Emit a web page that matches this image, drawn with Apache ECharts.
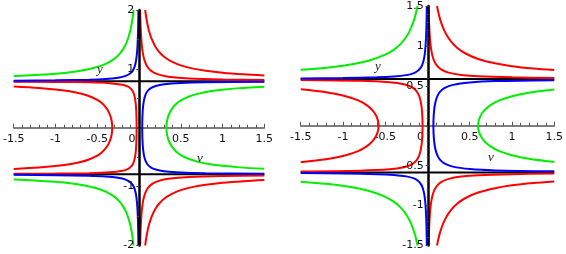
<!DOCTYPE html>
<html><head><meta charset="utf-8">
<script src="https://cdn.jsdelivr.net/npm/echarts@6/dist/echarts.min.js"></script>
<style>html,body{margin:0;padding:0;background:#fff}#c{width:566px;height:254px}</style>
</head><body><div id="c"></div>
<script>
// ---------- tick labels ----------
const xTicks = [-1.5, -1, -0.5, 0, 0.5, 1, 1.5];
const yTicksLeft = [-2, -1, 0, 1, 2];
const yTicksRight = [-1.5, -1, -0.5, 0, 0.5, 1, 1.5];

// ---------- horizontal black lines (y = ±level) ----------
const levelLeft = 0.79;
const levelRight = 0.585;

// ---------- LEFT PANEL, upper half (lower half is its mirror) ----------
// open branches (end at the top edge)
const greenL_A = [[-1.5,0.878],[-1.25,0.894],[-1.0,0.919],[-0.8,0.948],[-0.65,0.981],[-0.5,1.031],[-0.4,1.084],[-0.3,1.165],[-0.24,1.241],[-0.19,1.335],[-0.15,1.446],[-0.12,1.568],[-0.1,1.68],[-0.085,1.792],[-0.075,1.886],[-0.065,2.0]];
const redL_A = [[0.074,2.0],[0.085,1.888],[0.1,1.767],[0.12,1.645],[0.15,1.514],[0.2,1.369],[0.25,1.274],[0.32,1.185],[0.4,1.118],[0.5,1.06],[0.65,1.004],[0.8,0.968],[1.0,0.935],[1.25,0.908],[1.5,0.889]];
const blueL_A = [[-1.5,0.8],[-1.0,0.805],[-0.6,0.815],[-0.4,0.827],[-0.25,0.849],[-0.16,0.88],[-0.1,0.93],[-0.07,0.983],[-0.05,1.051],[-0.035,1.145],[-0.025,1.259],[-0.018,1.399],[-0.013,1.572],[-0.01,1.739],[-0.0085,1.857],[-0.0072,1.99]];
const redL_C = [[0.0133,2.0],[0.016,1.854],[0.02,1.695],[0.026,1.535],[0.035,1.382],[0.05,1.234],[0.07,1.126],[0.1,1.036],[0.15,0.961],[0.22,0.91],[0.35,0.868],[0.6,0.836],[1.0,0.818],[1.5,0.809]];
// closed branches (start on the x axis)
const greenL_B = [[0.3285,0],[0.332,0.08],[0.34,0.145],[0.36,0.234],[0.4,0.334],[0.45,0.41],[0.5,0.463],[0.6,0.531],[0.7,0.575],[0.85,0.619],[1.0,0.647],[1.2,0.673],[1.5,0.698]];
const redL_B = [[-0.3205,0],[-0.325,0.093],[-0.335,0.164],[-0.36,0.262],[-0.4,0.352],[-0.45,0.424],[-0.5,0.473],[-0.6,0.539],[-0.7,0.582],[-0.85,0.623],[-1.0,0.651],[-1.2,0.676],[-1.5,0.70]];
const blueL_B = [[0.0385,0],[0.039,0.093],[0.041,0.196],[0.045,0.301],[0.05,0.379],[0.06,0.473],[0.075,0.551],[0.1,0.62],[0.14,0.673],[0.2,0.71],[0.3,0.738],[0.5,0.759],[0.8,0.771],[1.5,0.78]];
const redL_D = [[-0.0289,0],[-0.0292,0.087],[-0.0305,0.184],[-0.033,0.28],[-0.038,0.388],[-0.045,0.473],[-0.055,0.545],[-0.07,0.606],[-0.09,0.651],[-0.13,0.697],[-0.2,0.731],[-0.35,0.757],[-0.6,0.771],[-1.0,0.778],[-1.5,0.782]];

// ---------- RIGHT PANEL, upper half ----------
const greenR_A = [[-1.5,0.701],[-1.2,0.728],[-1.0,0.753],[-0.8,0.789],[-0.65,0.83],[-0.5,0.89],[-0.4,0.951],[-0.32,1.022],[-0.26,1.099],[-0.21,1.189],[-0.17,1.291],[-0.145,1.376],[-0.13,1.44],[-0.118,1.5]];
const redR_A = [[0.113,1.5],[0.125,1.436],[0.14,1.37],[0.16,1.298],[0.19,1.214],[0.23,1.13],[0.28,1.053],[0.35,0.978],[0.45,0.905],[0.6,0.837],[0.8,0.782],[1.0,0.746],[1.25,0.717],[1.5,0.697]];
const blueR_A = [[-1.5,0.593],[-1.0,0.598],[-0.6,0.606],[-0.4,0.616],[-0.25,0.634],[-0.16,0.66],[-0.11,0.692],[-0.08,0.728],[-0.06,0.769],[-0.045,0.822],[-0.035,0.878],[-0.027,0.947],[-0.021,1.028],[-0.016,1.131],[-0.013,1.223],[-0.011,1.306],[-0.0095,1.386],[-0.0079,1.497]];
const redR_C = [[0.0131,1.5],[0.0145,1.437],[0.017,1.346],[0.021,1.238],[0.027,1.126],[0.035,1.028],[0.045,0.947],[0.06,0.871],[0.08,0.809],[0.11,0.755],[0.16,0.706],[0.25,0.665],[0.4,0.636],[0.6,0.619],[1.0,0.606],[1.5,0.599]];
const greenR_B = [[0.6,0],[0.6005,0.03],[0.605,0.056],[0.615,0.093],[0.64,0.147],[0.68,0.201],[0.75,0.262],[0.85,0.318],[1.0,0.37],[1.2,0.414],[1.5,0.453]];
const redR_B = [[-0.58,0],[-0.5805,0.03],[-0.59,0.08],[-0.61,0.132],[-0.65,0.193],[-0.72,0.259],[-0.82,0.317],[-1.0,0.379],[-1.2,0.421],[-1.5,0.458]];
const blueR_B = [[0.0702,0],[0.0705,0.04],[0.072,0.093],[0.076,0.162],[0.085,0.244],[0.1,0.319],[0.12,0.377],[0.15,0.427],[0.2,0.471],[0.3,0.512],[0.5,0.542],[0.8,0.559],[1.5,0.571]];
const redR_D = [[-0.0585,0],[-0.059,0.055],[-0.061,0.119],[-0.065,0.185],[-0.072,0.253],[-0.085,0.327],[-0.1,0.377],[-0.13,0.434],[-0.18,0.48],[-0.28,0.52],[-0.45,0.546],[-0.8,0.563],[-1.5,0.573]];

// ---------- helpers ----------
const RED = '#ff0000', GREEN = '#00ee00', BLUE = '#0000ff';
const mirror = d => d.map(p => [p[0], -p[1]]);
const closed = d => mirror(d.slice(1)).reverse().concat(d);
function line(g, data, color, z, w) {
  return { type: 'line', xAxisIndex: g, yAxisIndex: g, data: data, symbol: 'none', showSymbol: false,
    smooth: 0.3, silent: true, clip: true, z: z, lineStyle: { color: color, width: w || 2 } };
}
function panel(g, lvl, openCurves, closedCurves) {
  const s = [];
  s.push(line(g, [[xTicks[0], lvl], [xTicks[xTicks.length - 1], lvl]], '#000', 2, 2));
  s.push(line(g, [[xTicks[0], -lvl], [xTicks[xTicks.length - 1], -lvl]], '#000', 2, 2));
  openCurves.forEach(c => { s.push(line(g, c[0], c[1], c[2])); s.push(line(g, mirror(c[0]), c[1], c[2])); });
  closedCurves.forEach(c => s.push(line(g, closed(c[0]), c[1], c[2])));
  return s;
}
const series = [].concat(
  panel(0, levelLeft,
    [[greenL_A, GREEN, 4], [redL_A, RED, 3], [blueL_A, BLUE, 5], [redL_C, RED, 3]],
    [[greenL_B, GREEN, 4], [redL_B, RED, 3], [blueL_B, BLUE, 5], [redL_D, RED, 3]]),
  panel(1, levelRight,
    [[greenR_A, GREEN, 4], [redR_A, RED, 3], [blueR_A, BLUE, 5], [redR_C, RED, 3]],
    [[greenR_B, GREEN, 4], [redR_B, RED, 3], [blueR_B, BLUE, 5], [redR_D, RED, 3]])
);

const GRIDS = [
  { left: 13.3, top: 10, width: 251, height: 235.5 },
  { left: 300.7, top: 6, width: 256, height: 239.5 }
];
const FONT = 'DejaVu Sans';
function xAxis(g) {
  return { type: 'value', gridIndex: g, position: 'bottom', offset: -GRIDS[g].height / 2,
    min: xTicks[0], max: xTicks[xTicks.length - 1], interval: 0.5,
    axisLine: { onZero: false, lineStyle: { color: '#555', width: 1.5 } },
    axisTick: { show: true, inside: true, length: 4, lineStyle: { color: '#555' } },
    minorTick: { show: true, splitNumber: 5, length: 3, lineStyle: { color: '#555' } },
    splitLine: { show: false }, minorSplitLine: { show: false },
    axisLabel: { margin: 6, fontFamily: FONT, fontSize: 11, color: '#111', showMinLabel: true, showMaxLabel: true,
      formatter: v => v === 0 ? '{z|0}' : String(v),
      rich: { z: { fontFamily: FONT, fontSize: 11, color: '#111', padding: [0, 14, 0, 0] } } },
    z: 1 };
}
function yAxis(g, ticks, interval, minorSplit) {
  return { type: 'value', gridIndex: g, position: 'left', offset: -GRIDS[g].width / 2,
    min: ticks[0], max: ticks[ticks.length - 1], interval: interval,
    axisLine: { onZero: false, lineStyle: { color: '#000', width: 2.5 } },
    axisTick: { show: true, inside: false, length: 3, lineStyle: { color: '#444' } },
    minorTick: { show: true, splitNumber: minorSplit, length: 2, lineStyle: { color: '#444' } },
    splitLine: { show: false },
    axisLabel: { margin: 5, fontFamily: FONT, fontSize: 11, color: '#111', showMinLabel: true, showMaxLabel: true,
      formatter: v => v === 0 ? '' : String(v) },
    z: 10 };
}

const chart = echarts.init(document.getElementById('c'), null, { renderer: 'canvas' });
chart.setOption({
  animation: false,
  backgroundColor: '#fff',
  grid: GRIDS.map(g => Object.assign({ containLabel: false }, g)),
  xAxis: [xAxis(0), xAxis(1)],
  yAxis: [yAxis(0, yTicksLeft, 1, 2), yAxis(1, yTicksRight, 0.5, 5)],
  series: series,
  graphic: [
    { type: 'text', left: 97, top: 63, style: { text: 'y', font: 'italic 13px "Liberation Serif"', fill: '#222' }, z: 10 },
    { type: 'text', left: 197, top: 152, style: { text: 'ν', font: 'italic 13px "Liberation Serif"', fill: '#222' }, z: 10 },
    { type: 'text', left: 375, top: 60, style: { text: 'y', font: 'italic 13px "Liberation Serif"', fill: '#222' }, z: 10 },
    { type: 'text', left: 488, top: 151, style: { text: 'ν', font: 'italic 13px "Liberation Serif"', fill: '#222' }, z: 10 }
  ]
});
</script></body></html>
